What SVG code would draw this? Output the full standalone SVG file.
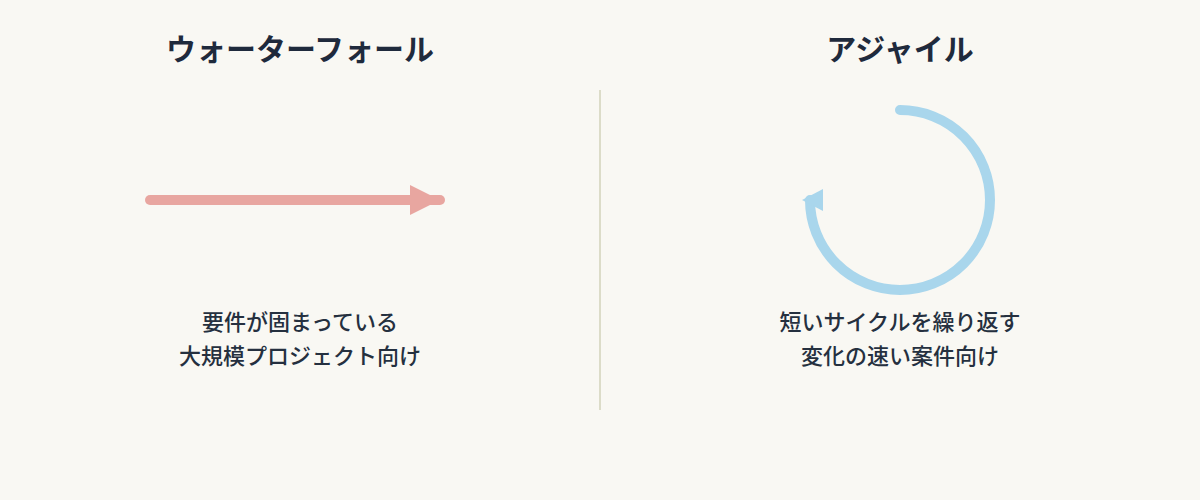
<svg xmlns="http://www.w3.org/2000/svg" width="1200" height="500" viewBox="0 0 1200 500">
<style>
.title{font-family:"Noto Sans CJK JP","Noto Sans",sans-serif;font-size:30px;font-weight:700;fill:#1f2a3c;text-anchor:middle}
.body{font-family:"Noto Sans CJK JP","Noto Sans",sans-serif;font-size:22px;font-weight:500;fill:#25303f;text-anchor:middle}
</style>
<rect width="1200" height="500" fill="#f9f8f3"/>
<g id="waterfall">
<text class="title" x="300" y="60">ウォーターフォール</text>
<text class="body" x="300" y="330">要件が固まっている</text>
<text class="body" x="300" y="364">大規模プロジェクト向け</text>
</g>
<g id="agile">
<text class="title" x="900" y="60">アジャイル</text>
<text class="body" x="900" y="330">短いサイクルを繰り返す</text>
<text class="body" x="900" y="364">変化の速い案件向け</text>
</g>
<g id="connectors">
<line x1="600" y1="90" x2="600" y2="410" stroke="#dcdcc8" stroke-width="2"/>
<line x1="150" y1="200" x2="440" y2="200" stroke="#e8a6a0" stroke-width="10" stroke-linecap="round"/>
<polygon points="410,185 410,215 440,200" fill="#e8a6a0"/>
<path d="M900,110 A90,90 0 1 1 810,200" fill="none" stroke="#a9d6ec" stroke-width="10" stroke-linecap="round"/>
<polygon points="823,189 823,211 802,200" fill="#a9d6ec"/>
</g>
</svg>
